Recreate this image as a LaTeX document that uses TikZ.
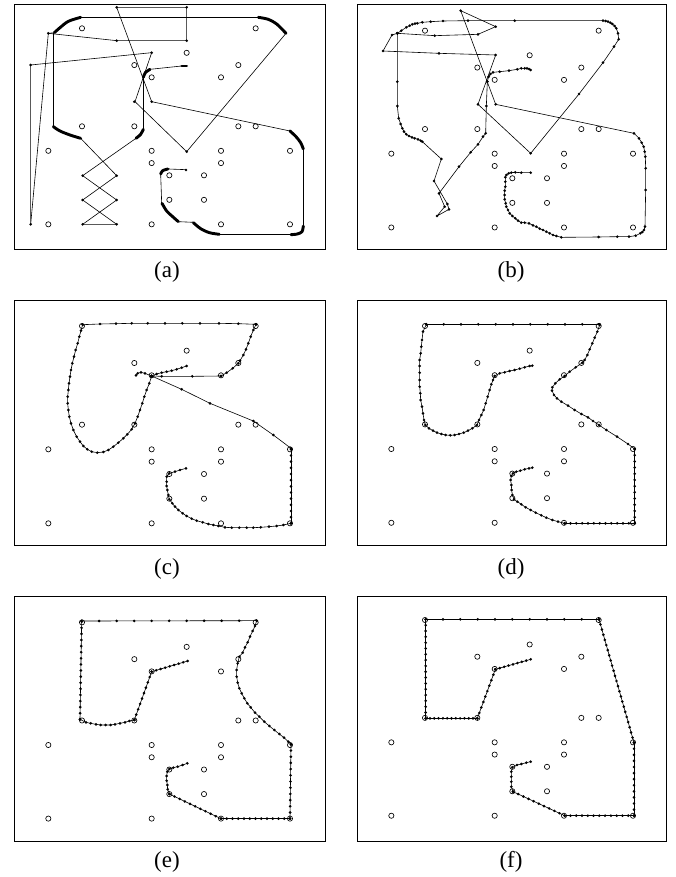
\documentclass[tikz,border=0pt]{standalone}
\usepackage{fontspec}
\setmainfont{Liberation Serif}
\usetikzlibrary{calc}
\def\dr{1.45pt}
\tikzset{
  tour/.style={line width=0.6pt, line join=round},
  thk/.style={line width=2.9pt, line cap=round, line join=round},
  city/.style={line width=0.65pt},
  frame/.style={line width=0.8pt},
  lab/.style={inner sep=0pt, font=\fontsize{23}{26}\selectfont}
}
\newcommand\dseg[3]{%
  \draw[tour] (#1) -- (#2);
  \foreach \i in {0,...,#3} \fill ($(#1)!{\i/#3}!(#2)$) circle (\dr);}
\newcommand\dcurve[2]{%
  \draw[tour] (#1) foreach \x/\y in {#2} { -- (\x,\y) };
  \fill (#1) circle (\dr);
  \foreach \x/\y in {#2} \fill (\x,\y) circle (\dr);}
\newcommand\cities[2]{%
  \foreach \cx/\cy in {216/0,737/0,530/2,685/3,373/3,425/4,633/4,216/8,373/8,685/8,737/8,115/10,425/10,633/10,840/10,425/11,633/11,478/12,582/12,478/14,582/14,115/16,425/16,633/16,840/16}
    \draw[city] (\cx,{#1+#2*\cy}) circle (2.6pt);}
\begin{document}
\begin{tikzpicture}[x=1pt,y=-1pt]
\useasboundingbox (0,0) rectangle (676,877);
\fill[white] (0,0) rectangle (676,877);
% frames
\draw[frame] (14,4.3) rectangle (325,249);
\draw[frame] (357.3,4.3) rectangle (666.5,249);
\draw[frame] (14,300) rectangle (325,545.7);
\draw[frame] (357.3,300) rectangle (666.5,545.7);
\draw[frame] (14,596) rectangle (325,841);
\draw[frame] (357.3,596) rectangle (666.5,841);
% labels
\node[lab] (la) at (167,272) {(a)};
\node[lab] (lb) at (511,272) {(b)};
\node[lab] (lc) at (167,569) {(c)};
\node[lab] (ld) at (511,569) {(d)};
\node[lab] (le) at (167,862) {(e)};
\node[lab] (lf) at (511,862) {(f)};

% ---------------- (a)
\begin{scope}[shift={(10pt,0pt)}, x=0.33333pt, y=-0.33333pt]
\cities{85}{36.75}
\draw[tour] (62,195) -- (425,158) -- (375,305) -- (530,455) -- (828,100);
\draw[tour] (210,52) -- (745,52);
\draw[tour] (115,100) -- (320,122) -- (530,122) -- (530,22) -- (320,22) -- (425,305) -- (840,393);
\draw[tour] (880,445) -- (880,678);
\draw[tour] (843,703) -- (628,703);
\draw[tour] (550,667) -- (505,665);
\draw[tour] (455,608) -- (452,522);
\draw[tour] (475,507) -- (528,509);
\draw[tour] (62,195) -- (62,673) -- (115,100) -- (133,98);
\draw[tour] (130,100) -- (130,380);
\draw[tour] (212,415) -- (320,527) -- (218,600) -- (320,673) -- (218,673) -- (320,600) -- (218,527) -- (378,415);
\draw[tour] (400,388) -- (400,232);
\draw[tour] (420,208) -- (515,198);
\draw[thk] plot[smooth] coordinates {(133,98) (150,83) (175,64) (212,52)};
\draw[thk] plot[smooth] coordinates {(745,52) (775,58) (800,72) (828,100)};
\draw[thk] plot[smooth] coordinates {(840,393) (858,410) (872,428) (880,447)};
\draw[thk] plot[smooth] coordinates {(880,678) (876,695) (862,702) (843,704)};
\draw[thk] plot[smooth] coordinates {(628,703) (598,698) (572,686) (550,668)};
\draw[thk] plot[smooth] coordinates {(505,665) (488,650) (470,633) (456,610)};
\draw[thk] plot[smooth] coordinates {(452,522) (458,512) (474,507)};
\draw[thk] plot[smooth] coordinates {(130,380) (150,393) (180,405) (212,415)};
\draw[thk] plot[smooth] coordinates {(378,415) (392,403) (400,388)};
\draw[thk] plot[smooth] coordinates {(400,232) (406,218) (420,208)};
\draw[thk] (515,198) -- (530,198);
\foreach \x/\y in {320/22,530/22,530/122,320/122,115/100,62/195,425/158,62/673,373/305,425/305,530/455,840/393,218/527,320/527,218/600,320/600,218/673,320/673,528/510}
  \fill (\x,\y) circle (\dr);
\end{scope}

% ---------------- (b)
\begin{scope}[shift={(353pt,0pt)}, x=0.33333pt, y=-0.33333pt]
\cities{92}{36.9}
\dcurve{133,100}{145/92,160/82,170/77,178/73,186/71,193/70,208/67,233/65,270/63,345/62,485/62,750/62,758/63,765/65,772/68,778/72,785/78,790/85,795/100,797/118,783/140,750/188,678/282,533/460,375/313,428/165,258/160,90/153,117/105,133/100}
\dcurve{133,100}{245/107,375/103,428/80,323/32,428/313,843/400,858/415,866/428,872/440,875/455,877/470,878/505,878/570,876/680,873/690,868/696,862/700,848/707,828/710,793/710,737/711,625/712,610/708,600/705,590/700,580/695,570/690,560/686,550/680,540/676,528/670,515/668,505/668,495/662,487/655,478/648,470/640,465/630,460/620,458/610,455/598,455/585,455/572,457/560,457/545,457/532,460/525,467/520,475/518,487/517,505/518,533/518}
\dcurve{133,100}{133/245,133/318,137/355,143/372,148/385,153/395,160/403,168/408,177/412,185/415,195/418,203/422,208/425,265/477,243/543,283/612,288/628,252/648,275/620,258/580,318/500,353/457,375/433,390/410,398/400,400/318,403/245}
\dcurve{403,245}{407/230,412/222,420/217,440/215,468/212,493/208,505/205,515/205,522/205,528/207,533/210}
\end{scope}

% ---------------- (c)
\begin{scope}[shift={(10pt,-290pt)}, x=0.33333pt, y=-0.33333pt]
\cities{108}{37}
\dcurve{218,104}{270/102,318/101,365/100,413/100,465/100,517/100,570/100,627/100,685/101,738/103}
\dcurve{738,103}{730/120,722/140,715/160,708/178,700/195,690/212,685/220,668/235,650/248,633/258}
\dcurve{633,258}{547/259,455/259,425/258}
\dcurve{425,258}{515/298,600/340,730/393,790/435,843/475}
\dseg{843,478}{843,700}{12}
\dcurve{843,700}{820/705,800/708,777/710,752/712,730/713,710/713,688/713,665/713,645/712,625/708,610/705,595/702,578/697,560/692,545/686,530/678,518/670,505/660,495/650,487/640,478/628,475/615,472/600,470/588,470/575,470/560,478/550,495/545,510/540,528/535}
\dcurve{425,258}{418/280,410/300,403/320,397/340,390/360,383/380,375/400,365/418,352/433,340/445,325/458,310/470,295/480,280/486,262/488,245/485,232/478,220/468,210/455,200/440,190/420,183/400,178/380,175/360,173/340,173/320,175/300,177/280,180/260,183/240,187/220,192/200,197/180,203/160,208/140,213/122,218/104}
\dcurve{425,258}{440/252,455/248,470/245,485/242,500/238,515/233,530/228}
\dcurve{425,258}{405/250,393/247,383/250,378/256}
\end{scope}

% ---------------- (d)
\begin{scope}[shift={(353pt,-290pt)}, x=0.33333pt, y=-0.33333pt]
\cities{108}{36.9}
\dseg{220,103}{740,103}{10}
\dcurve{740,105}{733/125,725/143,718/160,710/178,703/195,695/210,688/218,668/232,650/245,635/258,620/268,607/280,598/292,597/302,603/315,612/325,625/335,645/347,665/360,685/372,705/382,720/393,738/405,760/420,792/440,825/462,845/477}
\dseg{845,477}{845,700}{12}
\dseg{845,700}{635,700}{12}
\dcurve{635,700}{615/695,598/690,580/683,565/676,548/668,533/660,518/652,505/643,493/635,483/628,478/615,476/600,475/585,473/570,475/558,480/550,490/545,502/542,515/538,528/535,538/533}
\dcurve{220,103}{210/125,207/150,205/170,203/190,200/210,200/228,200/248,200/270,200/290,202/310,203/330,207/350,210/370,213/390,217/405,228/415,240/422,252/428,265/432,278/435,292/436,305/435,318/432,332/428,345/422,358/415,372/405,378/390,385/375,392/360,398/340,404/320,410/300,415/283,420/270,425/258,440/250,455/247,470/243,485/240,500/236,515/232,530/228,538/227}
\end{scope}

% ---------------- (e)
\begin{scope}[shift={(10pt,-590pt)}, x=0.33333pt, y=-0.33333pt]
\cities{97}{36.8}
\dseg{215,93}{740,92}{10}
\dcurve{740,92}{735/108,728/123,720/140,713/157,705/172,698/188,688/200,683/220,680/240,680/260,683/278,688/295,695/310,703/325,712/340,722/352,735/368,748/380,763/395,778/408,793/420,808/432,822/443,835/455,843/463}
\dseg{843,463}{840,686}{12}
\dseg{840,686}{633,686}{12}
\dseg{633,686}{478,612}{10}
\dcurve{478,612}{473/598,472/585,470/572,470/558,472/545,478/537,490/533,503/530,518/525,532/520}
\dseg{215,95}{210,388}{16}
\dcurve{210,388}{228/397,242/400,258/403,272/405,287/405,302/405,315/403,330/400,345/397,358/393,373/390}
\dseg{373,390}{425,245}{9}
\dseg{425,245}{533,213}{8}
\end{scope}

% ---------------- (f)
\begin{scope}[shift={(353pt,-590pt)}, x=0.33333pt, y=-0.33333pt]
\cities{90}{36.7}
\dseg{218,88}{738,88}{10}
\dseg{738,88}{843,458}{24}
\dseg{843,458}{843,677}{12}
\dseg{843,677}{635,677}{12}
\dseg{635,677}{480,605}{10}
\dcurve{480,605}{475/590,475/575,475/560,475/545,478/532,492/525,505/522,520/518,533/515}
\dseg{218,88}{218,385}{17}
\dseg{218,385}{373,385}{12}
\dseg{373,385}{427,238}{9}
\dseg{427,238}{533,208}{8}
\end{scope}
\end{tikzpicture}
\end{document}
